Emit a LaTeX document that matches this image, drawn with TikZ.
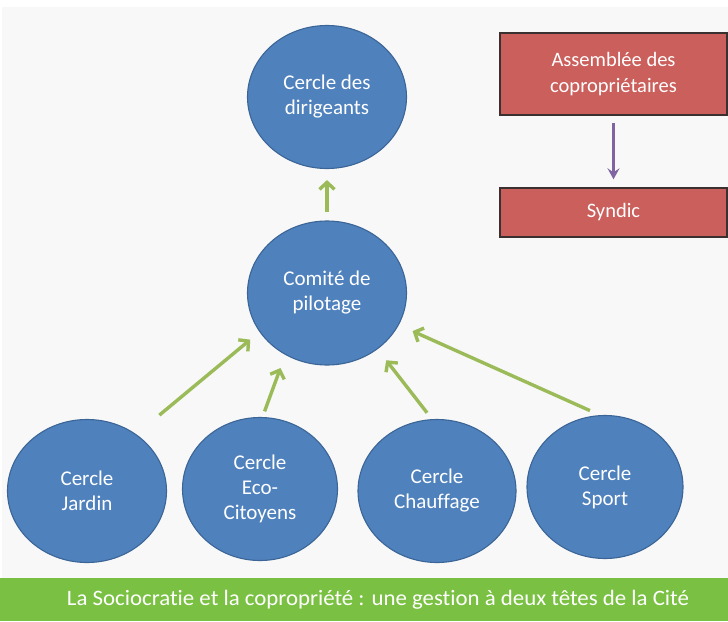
\documentclass[tikz,border=0pt]{standalone}
\usepackage{fontspec}
\setmainfont{Carlito}[Ligatures=NoCommon]
\usetikzlibrary{shapes.geometric,arrows.meta}
\definecolor{bg}{HTML}{F8F8F8}
\definecolor{circfill}{HTML}{4F81BD}
\definecolor{circline}{HTML}{3B6596}
\definecolor{boxfill}{HTML}{CB5F5B}
\definecolor{boxline}{HTML}{3A3030}
\definecolor{arrgreen}{HTML}{9BBB59}
\definecolor{arrpurple}{HTML}{8064A2}
\definecolor{barcol}{HTML}{7AC143}
\tikzset{
  circ/.style={ellipse, draw=circline, line width=1.1pt, fill=circfill, inner sep=0pt,
    minimum width=159pt, minimum height=143pt, text=white, align=center,
    font=\fontsize{21}{25}\selectfont},
  redbox/.style={rectangle, draw=boxline, line width=1.4pt, fill=boxfill, inner sep=0pt,
    minimum width=227pt, text=white, align=center, font=\fontsize{20.5}{26}\selectfont},
  garrow/.style={draw=arrgreen, line width=3.4pt, -{Straight Barb[length=7pt,width=15pt]}},
  parrow/.style={draw=arrpurple, line width=2.3pt, -{Stealth[length=11pt,width=12pt,inset=4pt]}}
}
\begin{document}
\begin{tikzpicture}[x=1pt,y=-1pt]
\path[use as bounding box, fill=white] (0,0) rectangle (728,621);
\fill[bg] (2,7) rectangle (728,578);

\node[circ] (dirigeants) at (327,97) {Cercle des\\dirigeants};
\node[circ, minimum height=144pt] (comite) at (327,293) {Comité de\\pilotage};
\node[circ] (jardin) at (87,491) {Cercle\\Jardin};
\node[circ, minimum width=155pt] (eco) at (260,489) {Cercle\\Eco-\\Citoyens};
\node[circ, minimum width=158pt] (chauffage) at (437,491) {Cercle\\Chauffage};
\node[circ, minimum width=156pt] (sport) at (605,487) {Cercle\\Sport};

\node[redbox, minimum height=82pt] (assemblee) at (613.5,74) {Assemblée des\\copropriétaires};
\node[redbox, minimum height=49pt] (syndic) at (613.5,212.5) {Syndic};

\draw[parrow, shorten <=7pt, shorten >=8pt] (assemblee) -- (syndic);

\draw[garrow, shorten <=8pt, shorten >=11pt] (comite) -- (dirigeants);
\draw[garrow, shorten <=30pt, shorten >=12pt] (jardin.49) -- (comite.210);
\draw[garrow, shorten <=6pt, shorten >=14pt] (eco.88) -- (comite.-124);
\draw[garrow, shorten <=8pt, shorten >=14pt] (chauffage.94) -- (comite.-48);
\draw[garrow, shorten <=11pt, shorten >=15pt] (sport.94) -- (comite.-24);

\fill[barcol] (0,578) rectangle (728,621);
\node[text=white, inner sep=0pt] (caption) at (378,600)
  {\resizebox{622pt}{1.1\height}{\fontsize{20}{24}\selectfont La Sociocratie et la copropriété : une gestion à deux têtes de la Cité}};
\end{tikzpicture}
\end{document}
